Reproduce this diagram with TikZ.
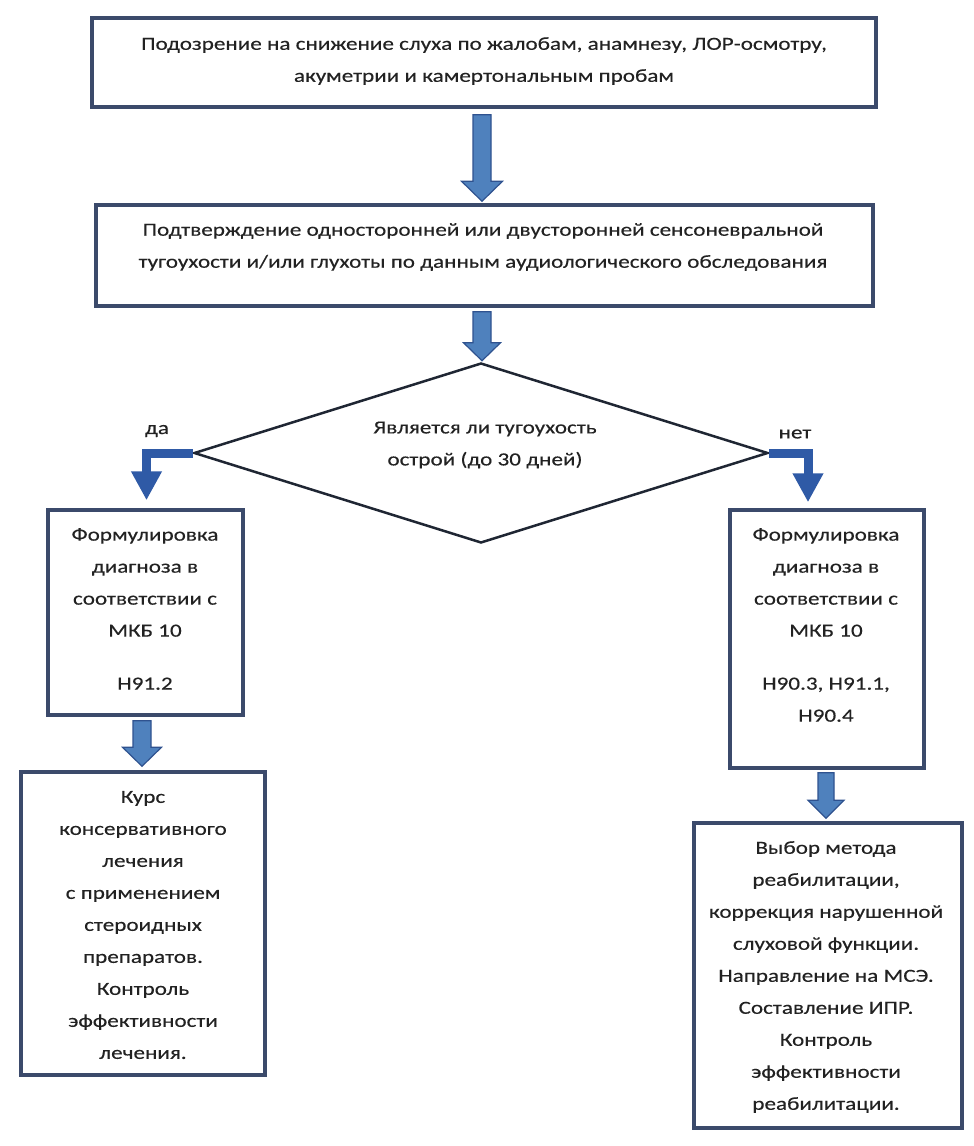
\documentclass[tikz,border=0pt]{standalone}
\usepackage{fontspec}
\setmainfont{Carlito}[FakeStretch=1.25,FakeBold=0.3]
\usetikzlibrary{shapes.geometric,calc,arrows.meta}
\definecolor{boxc}{HTML}{3B4A6B}
\definecolor{arrf}{HTML}{4F81BD}
\definecolor{arrd}{HTML}{2F528F}
\definecolor{bentc}{HTML}{2F5AA6}
\definecolor{txtc}{HTML}{222222}
\definecolor{diac}{HTML}{1F2633}
\newcommand\blockarr[5]{%
  \filldraw[arrf,draw=arrd,line width=1.2pt,line join=miter]
  ($(#1)+(-#3,0)$) -- ($(#2)+(-#3,-#5)$) -- ($(#2)+(-#4,-#5)$) -- (#2) --
  ($(#2)+(#4,-#5)$) -- ($(#2)+(#3,-#5)$) -- ($(#1)+(#3,0)$) -- cycle;}
\begin{document}
\begin{tikzpicture}[x=1pt,y=-1pt,
  box/.style={draw=boxc,line width=3.5pt,fill=white,inner sep=0pt},
  txt/.style={text=txtc,align=center,inner sep=0pt,font=\fontsize{18.5}{32}\selectfont},
  lbl/.style={text=txtc,inner sep=0pt,font=\fontsize{18.5}{32}\selectfont},
  bent/.style={draw=bentc,line width=9pt,line join=miter,-{Triangle[width=29pt,length=29pt]}}]
\useasboundingbox (0,0) rectangle (974,1146);
\fill[white] (0,0) rectangle (974,1146);
% boxes
\node[box,minimum width=784pt,minimum height=89pt] (b1) at (484,62.5) {};
\node[box,minimum width=777pt,minimum height=101pt] (b2) at (484.5,255.5) {};
\node[diamond,draw=diac,line width=2.5pt,minimum width=574pt,minimum height=180pt,inner sep=0pt] (d) at (481,453) {};
\node[box,minimum width=195pt,minimum height=205pt] (b3) at (145.5,612.5) {};
\node[box,minimum width=194pt,minimum height=258pt] (b4) at (827,639) {};
\node[box,minimum width=244pt,minimum height=303pt] (b5) at (143,923.5) {};
\node[box,minimum width=268pt,minimum height=305pt] (b6) at (828,975.5) {};
% texts
\node[txt] (t1) at (484,61) {Подозрение на снижение слуха по жалобам, анамнезу, ЛОР-осмотру,\\акуметрии и камертональным пробам};
\node[txt] (t2) at (483,247) {Подтверждение односторонней или двусторонней сенсоневральной\\тугоухости и/или глухоты по данным аудиологического обследования};
\node[txt] (td) at (485,445) {Является ли тугоухость\\острой (до 30 дней)};
\node[txt] (t3) at (145,609) {Формулировка\\диагноза в\\соответствии с\\МКБ 10\\[21pt]H91.2};
\node[txt] (t4) at (826,625) {Формулировка\\диагноза в\\соответствии с\\МКБ 10\\[21pt]H90.3, H91.1,\\H90.4};
\node[txt] (t5) at (143,925) {Курс\\консервативного\\лечения\\с применением\\стероидных\\препаратов.\\Контроль\\эффективности\\лечения.};
\node[txt] (t6) at (826,977) {Выбор метода\\реабилитации,\\коррекция нарушенной\\слуховой функции.\\Направление на МСЭ.\\Составление ИПР.\\Контроль\\эффективности\\реабилитации.};
\node[lbl] (lda) at (157,431) {да};
\node[lbl] (lnet) at (795,434) {нет};
% block arrows
\coordinate (a1s) at ($(b1.south)+(-2,6)$);
\coordinate (a1e) at ($(a1s |- b2.north)+(0,-2)$);
\blockarr{a1s}{a1e}{9}{20.5}{20}
\coordinate (a2s) at ($(b2.south)+(-2.5,4)$);
\coordinate (a2e) at ($(a2s |- d.north)+(0,-1)$);
\blockarr{a2s}{a2e}{9}{18.5}{18}
\coordinate (a5s) at ($(b3.south)+(-3.5,4)$);
\coordinate (a5e) at ($(a5s |- b5.north)+(0,-4)$);
\blockarr{a5s}{a5e}{9}{19.5}{19}
\coordinate (a6s) at ($(b4.south)+(-1,3)$);
\coordinate (a6e) at ($(a6s |- b6.north)+(0,-3)$);
\blockarr{a6s}{a6e}{8}{18}{18}
% bent arrows
\draw[bent] (d.west) -| ($(b3.north)+(1,-8)$);
\draw[bent] (d.east) -| ($(b4.north)+(-19,-6)$);
\end{tikzpicture}
\end{document}
